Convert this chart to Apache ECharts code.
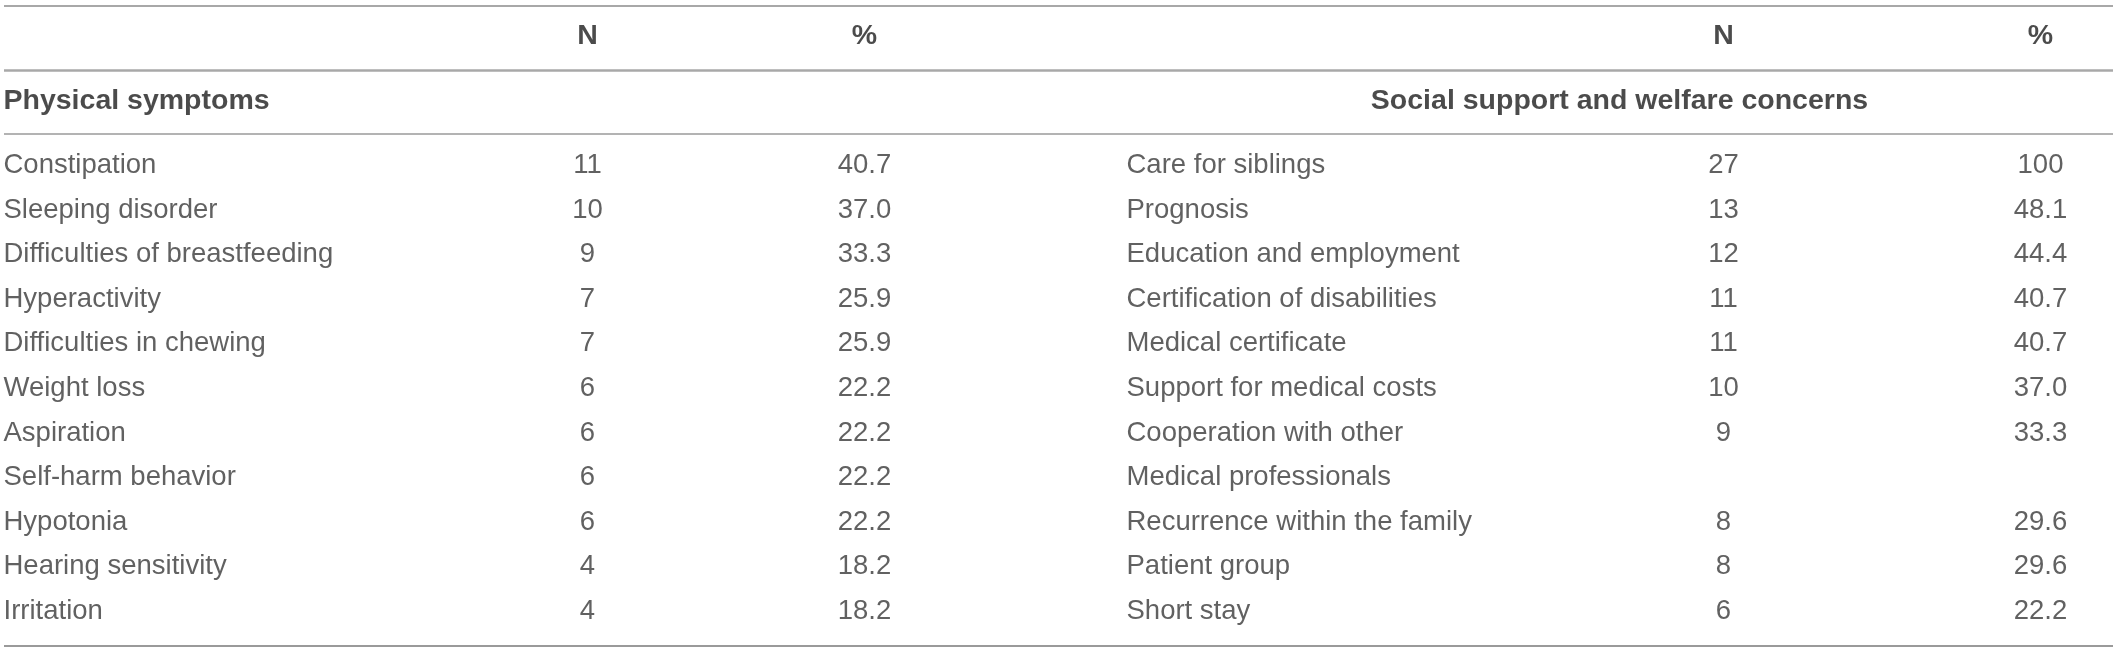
<!DOCTYPE html>
<html>
<head>
<meta charset="utf-8">
<script src="https://cdn.jsdelivr.net/npm/echarts@6/dist/echarts.min.js"></script>
<style>
	html, body { margin: 0; padding: 0; background: #fff; }
	#chart { width: 2118px; height: 652px; }
</style>
</head>
<body>
<div id="chart"></div>
<script>
// table contents
var headers = ['N', '%'];
var leftTitle = 'Physical symptoms';
var rightTitle = 'Social support and welfare concerns';

var leftNames = ['Constipation', 'Sleeping disorder', 'Difficulties of breastfeeding', 'Hyperactivity',
	'Difficulties in chewing', 'Weight loss', 'Aspiration', 'Self-harm behavior', 'Hypotonia',
	'Hearing sensitivity', 'Irritation'];
var leftN = ['11', '10', '9', '7', '7', '6', '6', '6', '6', '4', '4'];
var leftPct = ['40.7', '37.0', '33.3', '25.9', '25.9', '22.2', '22.2', '22.2', '22.2', '18.2', '18.2'];

// one label spills onto the next line, so that line has no numbers
var rightNames = ['Care for siblings', 'Prognosis', 'Education and employment', 'Certification of disabilities',
	'Medical certificate', 'Support for medical costs', 'Cooperation with other', 'Medical professionals',
	'Recurrence within the family', 'Patient group', 'Short stay'];
var rightN = ['27', '13', '12', '11', '11', '10', '9', '', '8', '8', '6'];
var rightPct = ['100', '48.1', '44.4', '40.7', '40.7', '37.0', '33.3', '', '29.6', '29.6', '22.2'];

// layout
var W = 2118, H = 652;
var colX = { name1: 4, n1: 588, pct1: 865, name2: 1127, n2: 1724, pct2: 2041, title2: 1620 };
var rowY = { header: 37, section: 102, first: 166, step: 44.6 };
var rules = [
	{ y: 6, w: 2, c: '#a8a8a8' },
	{ y: 70, w: 2.5, c: '#a8a8a8' },
	{ y: 133.5, w: 1.5, c: '#9a9a9a' },
	{ y: 645.5, w: 2, c: '#9a9a9a' }
];

var FONT = 'Liberation Sans';

function textSeries(points, align, bold) {
	return {
		type: 'scatter',
		silent: true,
		symbolSize: 1,
		itemStyle: { color: 'transparent' },
		label: {
			show: true,
			position: [0, 0],
			align: align,
			verticalAlign: 'middle',
			fontFamily: FONT,
			fontSize: bold ? 28.5 : 27.5,
			fontWeight: bold ? 'bold' : 'normal',
			color: bold ? '#1e1e1e' : '#3a3a3a',
			formatter: function (p) { return p.data[2]; }
		},
		data: points
	};
}

function column(x, texts) {
	var out = [];
	for (var i = 0; i < texts.length; i++) {
		if (texts[i] !== '') {
			out.push([x, rowY.first + i * rowY.step, texts[i]]);
		}
	}
	return out;
}

var series = [
	textSeries([[colX.n1, rowY.header, headers[0]], [colX.pct1, rowY.header, headers[1]],
		[colX.n2, rowY.header, headers[0]], [colX.pct2, rowY.header, headers[1]],
		[colX.title2, rowY.section, rightTitle]], 'center', true),
	textSeries([[colX.name1, rowY.section, leftTitle]], 'left', true),
	textSeries(column(colX.name1, leftNames), 'left', false),
	textSeries(column(colX.name2, rightNames), 'left', false),
	textSeries(column(colX.n1, leftN).concat(column(colX.pct1, leftPct))
		.concat(column(colX.n2, rightN)).concat(column(colX.pct2, rightPct)), 'center', false)
];

rules.forEach(function (r) {
	series.push({
		type: 'lines',
		coordinateSystem: 'cartesian2d',
		silent: true,
		lineStyle: { color: r.c, width: r.w, opacity: 1 },
		data: [{ coords: [[4, r.y], [2113, r.y]] }]
	});
});

var chart = echarts.init(document.getElementById('chart'), null, { renderer: 'canvas' });
chart.setOption({
	animation: false,
	backgroundColor: '#ffffff',
	grid: { left: 0, right: 0, top: 0, bottom: 0 },
	xAxis: { type: 'value', min: 0, max: W, show: false },
	yAxis: { type: 'value', min: 0, max: H, inverse: true, show: false },
	series: series
});
</script>
</body>
</html>
